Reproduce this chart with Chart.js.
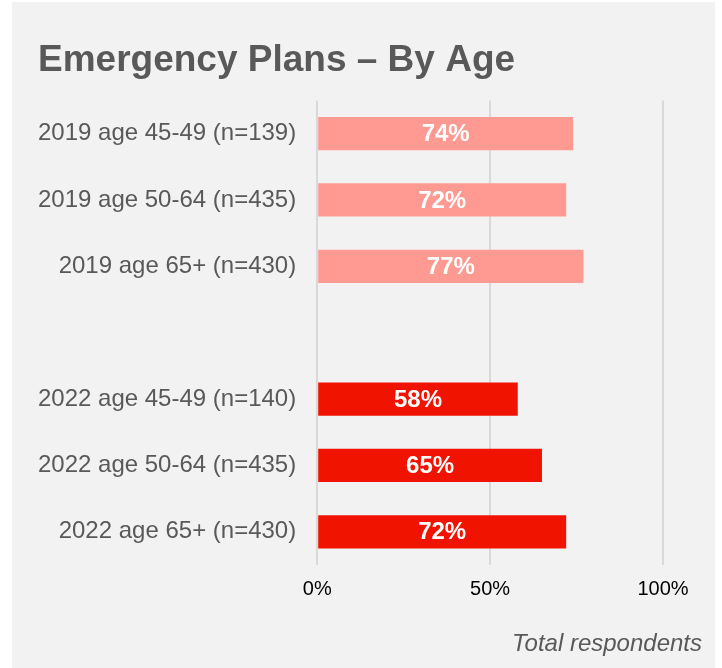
<!DOCTYPE html>
<html>
<head>
<meta charset="utf-8">
<script src="https://cdn.jsdelivr.net/npm/chart.js@4.4.1/dist/chart.umd.min.js"></script>
<style>
  html, body { margin: 0; padding: 0; background: #ffffff; }
  #panel { position: absolute; left: 12px; top: 2px; width: 703px; height: 666px; background: #F2F2F2; }
  #wrap { position: absolute; left: 0; top: 0; width: 722px; height: 668px; }
</style>
</head>
<body>
<div id="panel"></div>
<div id="wrap"><canvas id="c" width="722" height="668"></canvas></div>
<script>
const titleText = 'Emergency Plans – By Age';
const footnoteText = 'Total respondents';
const labels2019 = ['2019 age 45-49 (n=139)', '2019 age 50-64 (n=435)', '2019 age 65+ (n=430)'];
const values2019 = [74, 72, 77];
const labels2022 = ['2022 age 45-49 (n=140)', '2022 age 50-64 (n=435)', '2022 age 65+ (n=430)'];
const values2022 = [58, 65, 72];
const xTicks = [0, 50, 100];
const color2019 = '#FF9A92';
const color2022 = '#F01400';

const categories = [...labels2019, '', ...labels2022];
const data = [...values2019, null, ...values2022];
const colors = [...values2019.map(() => color2019), 'transparent', ...values2022.map(() => color2022)];

const FONT = "'Liberation Sans', Arial, sans-serif";

const valueLabels = {
  id: 'valueLabels',
  afterDatasetsDraw(chart) {
    const ctx = chart.ctx;
    const meta = chart.getDatasetMeta(0);
    ctx.save();
    ctx.fillStyle = '#ffffff';
    ctx.font = 'bold 24px ' + FONT;
    ctx.textAlign = 'center';
    ctx.textBaseline = 'middle';
    meta.data.forEach((bar, i) => {
      const v = chart.data.datasets[0].data[i];
      if (v === null) return;
      ctx.fillText(v + '%', (bar.x + bar.base) / 2, bar.y + 1);
    });
    ctx.restore();
  }
};

const footnote = {
  id: 'footnote',
  afterDraw(chart) {
    const ctx = chart.ctx;
    ctx.save();
    ctx.fillStyle = '#595959';
    ctx.font = 'italic 24px ' + FONT;
    ctx.textAlign = 'right';
    ctx.textBaseline = 'alphabetic';
    ctx.fillText(footnoteText, chart.width - 20, chart.height - 17);
    ctx.restore();
  }
};

new Chart(document.getElementById('c'), {
  type: 'bar',
  data: {
    labels: categories,
    datasets: [{
      data: data,
      backgroundColor: colors,
      borderWidth: 0,
      categoryPercentage: 0.5,
      barPercentage: 1.0
    }]
  },
  options: {
    indexAxis: 'y',
    responsive: false,
    animation: false,
    layout: { padding: { left: 38, right: 59, top: 0, bottom: 55 } },
    plugins: {
      legend: { display: false },
      tooltip: { enabled: false },
      title: {
        display: true,
        text: titleText,
        align: 'start',
        color: '#595959',
        font: { family: FONT, size: 37, weight: 'bold' },
        padding: { top: 39, bottom: 17 }
      }
    },
    scales: {
      x: {
        min: 0, max: 100,
        afterBuildTicks(scale) { scale.ticks = xTicks.map(v => ({ value: v })); },
        ticks: { callback: v => v + '%', color: '#000000', font: { family: FONT, size: 20 }, padding: 12 },
        grid: { color: '#D9D9D9', lineWidth: 2, drawTicks: false },
        border: { display: false }
      },
      y: {
        afterFit(scale) { scale.width -= scale.options.ticks.padding; },
        ticks: { color: '#595959', font: { family: FONT, size: 24 }, padding: 21 },
        grid: { display: false, drawTicks: false },
        border: { display: false }
      }
    }
  },
  plugins: [valueLabels, footnote]
});
</script>
</body>
</html>
